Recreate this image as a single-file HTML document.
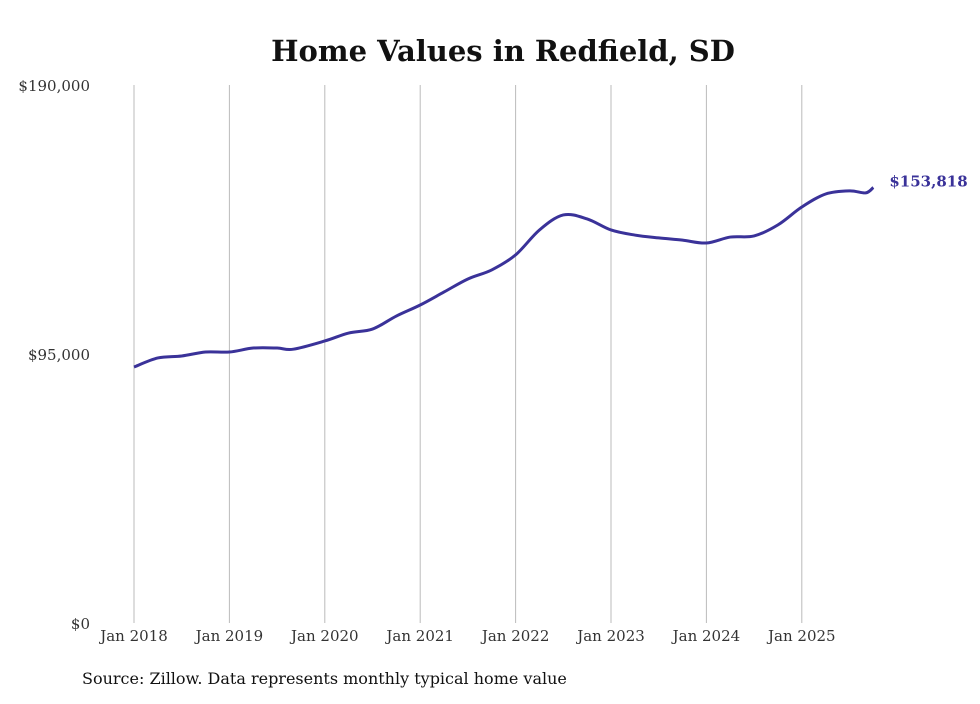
<!DOCTYPE html>
<html><head><meta charset="utf-8"><style>
body{margin:0;background:#fff;}
svg text{font-family:"DejaVu Serif","Liberation Serif",serif;}
</style></head><body>
<svg id="chart" width="980" height="699">
<text x="503" y="61" text-anchor="middle" font-size="29" font-weight="bold" fill="#111">Home Values in Redfield, SD</text>
<g id="grid"></g><g id="yt"></g><g id="xt"></g>
<path id="line" fill="none" stroke="#3a3299" stroke-width="3"/>
<text id="endlabel" font-size="15" font-weight="bold" fill="#3a3299"></text>
<text x="82" y="684" font-size="16" fill="#111">Source: Zillow. Data represents monthly typical home value</text>
</svg>
<script>
const dates=[2018.0,2018.25,2018.5,2018.75,2019.0,2019.25,2019.5,2019.67,2020.0,2020.25,2020.5,2020.75,2021.0,2021.25,2021.5,2021.75,2022.0,2022.25,2022.5,2022.75,2023.0,2023.25,2023.5,2023.75,2024.0,2024.25,2024.5,2024.75,2025.0,2025.25,2025.5,2025.67,2025.75];
const values=[90400,93600,94300,95700,95700,97100,97100,96700,99600,102400,103800,108400,112300,116900,121500,124700,130000,138800,144100,142700,138800,137000,136000,135200,134200,136300,136700,140600,146900,151500,152600,151900,153818];
const yTicks=[0,95000,190000];
const yLabels=["$0","$95,000","$190,000"];
const xTicks=[2018,2019,2020,2021,2022,2023,2024,2025];
const xLabels=["Jan 2018","Jan 2019","Jan 2020","Jan 2021","Jan 2022","Jan 2023","Jan 2024","Jan 2025"];
const X=d=>134+(d-2018)*95.4, Y=v=>623-v/190000*538;
const ns="http://www.w3.org/2000/svg";
function mk(t,a,p){const e=document.createElementNS(ns,t);for(const k in a)e.setAttribute(k,a[k]);p.appendChild(e);return e;}
const grid=document.getElementById('grid'),yt=document.getElementById('yt'),xt=document.getElementById('xt');
xTicks.forEach((d,i)=>{
 const l=mk('line',{x1:X(d),x2:X(d),y1:85,y2:623,stroke:'#bbb','stroke-width':1},grid);
 
 
 const t=mk('text',{x:X(d),y:641,'text-anchor':'middle','font-size':15,fill:'#333'},xt);
 t.textContent=xLabels[i];
 
 
});
yTicks.forEach((v,i)=>{
 const t=mk('text',{x:90,y:Y(v)+6,'text-anchor':'end','font-size':15,fill:'#333'},yt);
 t.textContent=yLabels[i];
 
 
});
const pts=dates.map((d,i)=>[X(d),Y(values[i])]);
let p=`M${pts[0][0]},${pts[0][1]}`;
for(let i=0;i<pts.length-1;i++){
 const p0=pts[i-1]||pts[i],p1=pts[i],p2=pts[i+1],p3=pts[i+2]||p2;
 p+=` C${p1[0]+(p2[0]-p0[0])/6},${p1[1]+(p2[1]-p0[1])/6} ${p2[0]-(p3[0]-p1[0])/6},${p2[1]-(p3[1]-p1[1])/6} ${p2[0]},${p2[1]}`;
}
document.getElementById('line').setAttribute('d',p);
const last=pts[pts.length-1],el=document.getElementById('endlabel');
el.setAttribute('x',last[0]+16);el.setAttribute('y',last[1]-1);
el.textContent='$'+values[values.length-1].toLocaleString('en-US');
</script>
</body></html>
